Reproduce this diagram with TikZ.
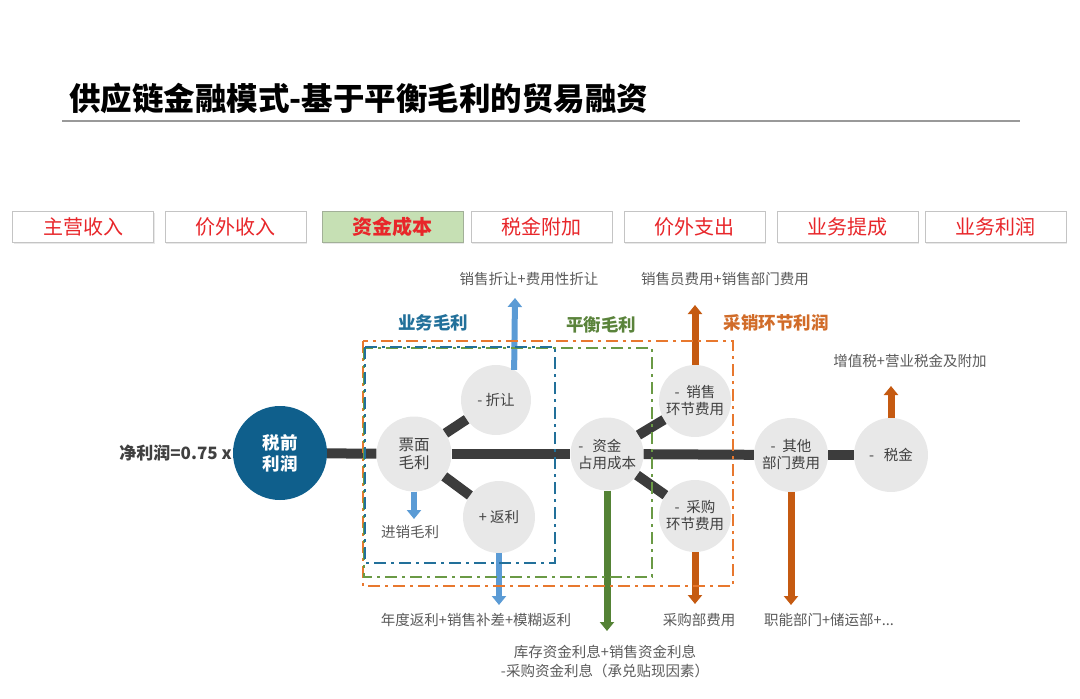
\documentclass[tikz,border=0pt]{standalone}
\usepackage{fontspec}
\setmainfont{Noto Sans CJK SC}
\usetikzlibrary{arrows.meta, shadows}

\definecolor{tabred}{HTML}{E8262A}
\definecolor{tabline}{HTML}{C4C4C4}
\definecolor{tabgreen}{HTML}{C6E0B4}
\definecolor{ballgray}{HTML}{E8E8E8}
\definecolor{inkgray}{HTML}{404040}
\definecolor{notegray}{HTML}{5A5A5A}
\definecolor{barcol}{HTML}{3C3C3C}
\definecolor{deepblue}{HTML}{0F5F8C}
\definecolor{arrblue}{HTML}{5B9BD5}
\definecolor{arrorange}{HTML}{C55A11}
\definecolor{arrgreen}{HTML}{548235}
\definecolor{frblue}{HTML}{22709A}
\definecolor{frgreen}{HTML}{6A9A45}
\definecolor{frorange}{HTML}{E8782E}

\begin{document}
\begin{tikzpicture}[x=1pt, y=-1pt,
  tab/.style={draw=tabline, line width=0.8pt, fill=white, minimum width=141pt, minimum height=31pt,
    text=tabred, inner sep=0pt, font=\fontsize{20}{20}\selectfont,
    drop shadow={shadow xshift=1pt, shadow yshift=-1.2pt, opacity=0.18}},
  ball/.style={circle, fill=ballgray, text=inkgray, align=center, inner sep=0pt,
    font=\fontsize{14.5}{17}\selectfont},
  bar/.style={draw=barcol, line width=10pt},
  pipe/.style={line width=#1, -{Triangle[width=14pt, length=9pt]}},
  pipe/.default=7pt,
  note/.style={text=notegray, align=center, font=\fontsize{14.5}{19}\selectfont},
  frame/.style={line width=2.5pt, dash pattern=on 12pt off 5pt on 3pt off 5pt},
  tag/.style={font=\fontsize{17.5}{17.5}\selectfont\bfseries}]
  \useasboundingbox (0,0) rectangle (1080,699);

  % title
  \node[anchor=west, inner sep=0pt, font=\fontsize{31.5}{31.5}\selectfont\bfseries] (title) at (69,98)
    {供应链金融模式-基于平衡毛利的贸易融资};
  \coordinate (ruleL) at (62,121);
  \coordinate (ruleR) at (1020,121);
  \draw[line width=1.4pt, draw=black!40] (ruleL) -- (ruleR);

  % top tabs
  \node[tab] (tabmain) at (83,227) {主营收入};
  \node[tab] (tabextra) at (235.5,227) {价外收入};
  \node[tab, fill=tabgreen, draw=tabgreen!70!black!80, font=\fontsize{20}{20}\selectfont\bfseries] (tabfund) at (392.5,227) {资金成本};
  \node[tab] (tabsurtax) at (541.5,227) {税金附加};
  \node[tab] (tabout) at (694.5,227) {价外支出};
  \node[tab] (tabbonus) at (847.5,227) {业务提成};
  \node[tab] (tabprofit) at (995.5,227) {业务利润};

  % circles
  \node[anchor=east, inner sep=0pt, text=inkgray, font=\fontsize{17}{17}\selectfont\bfseries] (net) at (232,453) {净利润=0.75 x};
  \node[circle, fill=deepblue, text=white, align=center, minimum size=94pt, inner sep=0pt,
    font=\fontsize{17.5}{21}\selectfont\bfseries] (pre) at (280,453) {税前\\利润};
  \node[ball, minimum size=75pt, font=\fontsize{15.5}{18}\selectfont] (face) at (414,454) {票面\\毛利};
  \node[ball, minimum size=70pt] (disc) at (496,400) {-\ 折让};
  \node[ball, minimum size=72pt] (rebate) at (499,517) {+ 返利};
  \node[ball, minimum size=73pt] (fund) at (607,454) {\llap{-\hspace{9pt}}资金\\占用成本};
  \node[ball, minimum size=72pt] (sale) at (695,401) {-\ \ 销售\\环节费用};
  \node[ball, minimum size=72pt] (buy) at (695,516) {-\ \ 采购\\环节费用};
  \node[ball, minimum size=74pt] (other) at (791,455) {-\ \ 其他\\部门费用};
  \node[ball, minimum size=74pt] (tax) at (891,455) {-\ \ \ 税金};

  % bars
  \draw[bar] (pre) -- (face);
  \draw[bar] (face) -- (fund);
  \draw[bar] (fund) -- (other);
  \draw[bar] (other) -- (tax);
  \draw[bar] (face) -- (disc);
  \draw[bar] (face) -- (rebate);
  \draw[bar] (fund) -- (sale);
  \draw[bar] (fund) -- (buy);

  % arrows
  \coordinate (discend) at (515,298);
  \coordinate (saleend) at (695,305);
  \coordinate (taxend) at (891,386);
  \coordinate (faceend) at (414,519);
  \coordinate (rebateend) at (499,605);
  \coordinate (fundend) at (607,631);
  \coordinate (buyend) at (695,604);
  \coordinate (otherend) at (791,605);
  \draw[pipe=6pt, arrblue] (disc.59) -- (discend);
  \draw[pipe, arrorange] (sale.north) -- (saleend);
  \draw[pipe, arrorange] (tax.north) -- (taxend);
  \draw[pipe=6pt, arrblue] (face.south) -- (faceend);
  \draw[pipe=6pt, arrblue] (rebate.south) -- (rebateend);
  \draw[pipe, arrgreen] (fund.south) -- (fundend);
  \draw[pipe, arrorange] (buy.south) -- (buyend);
  \draw[pipe, arrorange] (other.south) -- (otherend);

  % arrow labels
  \node[note] (discnote) at (529,279) {销售折让+费用性折让};
  \node[note] (salenote) at (725,279) {销售员费用+销售部门费用};
  \node[note] (taxnote) at (910,361) {增值税+营业税金及附加};
  \node[note] (facenote) at (410,532) {进销毛利};
  \node[note] (rebatenote) at (476,620) {年度返利+销售补差+模糊返利};
  \node[note] (buynote) at (699,620) {采购部费用};
  \node[note] (othernote) at (829,620) {职能部门+储运部+...};
  \node[note] (fundnote) at (605,662) {库存资金利息+销售资金利息\\-采购资金利息（承兑贴现因素）};

  % dashed frames
  \draw[frame, frorange] (363,341) rectangle (733,586);
  \draw[frame, frgreen] (364,348) rectangle (652,577);
  \draw[frame, frblue] (365,347) rectangle (555,563);
  \node[tag, text=frblue] (bluetag) at (433,323) {业务毛利};
  \node[tag, text=frgreen!85!black] (greentag) at (601,325) {平衡毛利};
  \node[tag, text=frorange!90!black] (orangetag) at (776,323) {采销环节利润};
\end{tikzpicture}
\end{document}
